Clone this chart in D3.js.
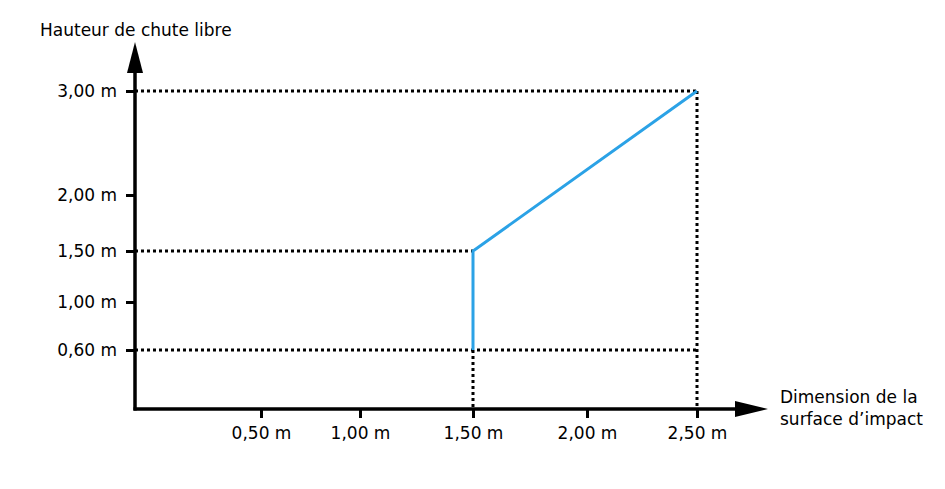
<!DOCTYPE html>
<html>
<head>
<meta charset="utf-8">
<script src="https://cdn.jsdelivr.net/npm/d3@7"></script>
<style>
  body { margin: 0; background: #fff; }
  text { font-family: "DejaVu Sans", Verdana, sans-serif; font-size: 17px; fill: #000; }
</style>
</head>
<body>
<div id="chart"></div>
<script>
// Tick values (metres)
var xTicks = [0.5, 1.0, 1.5, 2.0, 2.5];
var yTicks = [0.6, 1.0, 1.5, 2.0, 3.0];

// Curve : dimension de la surface d'impact vs hauteur de chute libre
var curveX = [1.5, 1.5, 2.5];
var curveY = [0.6, 1.5, 3.0];

// Reference (dotted) guides: [x0, y0, x1, y1]
var guides = [
    [0, 3.0, 2.5, 3.0],
    [2.5, 3.0, 2.5, 0],
    [0, 1.5, 1.5, 1.5],
    [1.5, 0.6, 1.5, 0],
    [0, 0.6, 2.5, 0.6]
];

var width = 945, height = 489;

var svg = d3.select("#chart").append("svg")
    .attr("width", width)
    .attr("height", height);

// The drawing is a schematic: spacing between ticks isn't uniform
var x = d3.scaleLinear()
    .domain([0, 0.5, 1.0, 1.5, 2.0, 2.5])
    .range([135, 261, 360, 473, 587, 697]);
var y = d3.scaleLinear()
    .domain([0, 0.6, 1.0, 1.5, 2.0, 3.0])
    .range([409, 350, 302, 251, 195, 91]);

var fr = d3.formatLocale({ decimal: ",", thousands: " ", grouping: [3], currency: ["", " €"] });
var fmt = function (d) { return fr.format(".2f")(d) + " m"; };

// dotted guides
svg.append("g").selectAll("line")
    .data(guides)
    .enter().append("line")
    .attr("x1", function (d) { return x(d[0]); })
    .attr("y1", function (d) { return y(d[1]); })
    .attr("x2", function (d) { return x(d[2]); })
    .attr("y2", function (d) { return y(d[3]); })
    .attr("stroke", "#000")
    .attr("stroke-width", 3)
    .attr("stroke-dasharray", "3,3");

// axes ticks + labels
var yAxis = svg.append("g")
    .attr("transform", "translate(" + x(0) + ",0)")
    .call(d3.axisLeft(y).tickValues(yTicks).tickFormat(fmt).tickSize(9).tickPadding(9));
var xAxis = svg.append("g")
    .attr("transform", "translate(0," + y(0) + ")")
    .call(d3.axisBottom(x).tickValues(xTicks).tickFormat(fmt).tickSize(9).tickPadding(9));

[yAxis, xAxis].forEach(function (g) {
    g.select(".domain").remove();
    g.selectAll(".tick line").attr("stroke", "#000").attr("stroke-width", 3);
    g.selectAll(".tick text")
        .attr("fill", "#000")
        .style("font-family", "DejaVu Sans, Verdana, sans-serif")
        .style("font-size", "17px");
});

// axis lines with arrow heads
svg.append("path")
    .attr("d", "M" + x(0) + "," + (y(0) + 1.5) + "V70")
    .attr("stroke", "#000").attr("stroke-width", 3.5).attr("fill", "none");
svg.append("path")
    .attr("d", "M" + (x(0) - 8) + ",73L" + x(0) + ",42L" + (x(0) + 8) + ",73Z")
    .attr("fill", "#000");
svg.append("path")
    .attr("d", "M" + (x(0) - 1.5) + "," + y(0) + "H738")
    .attr("stroke", "#000").attr("stroke-width", 3.5).attr("fill", "none");
svg.append("path")
    .attr("d", "M735," + (y(0) - 8) + "L768," + y(0) + "L735," + (y(0) + 8) + "Z")
    .attr("fill", "#000");

// curve
var line = d3.line()
    .x(function (d) { return x(d[0]); })
    .y(function (d) { return y(d[1]); });
svg.append("path")
    .datum(curveX.map(function (v, i) { return [v, curveY[i]]; }))
    .attr("d", line)
    .attr("fill", "none")
    .attr("stroke", "#2ba2e6")
    .attr("stroke-width", 3);

// axis titles
svg.append("text").attr("x", 40).attr("y", 36).text("Hauteur de chute libre");
var xt = svg.append("text").attr("x", 780).attr("y", 403);
xt.append("tspan").attr("x", 780).text("Dimension de la");
xt.append("tspan").attr("x", 780).attr("dy", 22).text("surface d’impact");
</script>
</body>
</html>
